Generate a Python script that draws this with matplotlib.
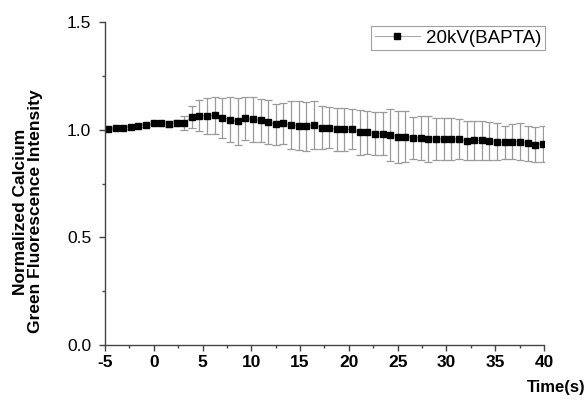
import matplotlib
matplotlib.use("Agg")
import matplotlib.pyplot as plt
from matplotlib.lines import Line2D
from matplotlib.ticker import MultipleLocator

plt.rcParams['font.family'] = ['Liberation Sans', 'DejaVu Sans']
plt.rcParams['axes.unicode_minus'] = False

# time points (s)
time_s = [-4.70, -3.92, -3.14, -2.35, -1.57, -0.79, -0.01, 0.77, 1.55, 2.33,
          3.12, 3.90, 4.68, 5.46, 6.25, 7.03, 7.81, 8.59, 9.37, 10.16,
          10.94, 11.72, 12.50, 13.29, 14.07, 14.85, 15.63, 16.41, 17.20, 17.98,
          18.76, 19.54, 20.33, 21.11, 21.89, 22.67, 23.45, 24.24, 25.02, 25.80,
          26.58, 27.37, 28.15, 28.93, 29.71, 30.49, 31.28, 32.06, 32.84, 33.62,
          34.41, 35.19, 35.97, 36.75, 37.53, 38.32, 39.10, 39.88]

intensity = [1.001, 1.007, 1.010, 1.012, 1.019, 1.021, 1.030, 1.029, 1.026, 1.032,
             1.032, 1.060, 1.064, 1.064, 1.067, 1.056, 1.046, 1.039, 1.052, 1.049,
             1.043, 1.035, 1.024, 1.029, 1.021, 1.018, 1.016, 1.022, 1.010, 1.009,
             1.001, 1.001, 1.001, 0.987, 0.987, 0.982, 0.982, 0.976, 0.968, 0.968,
             0.962, 0.961, 0.957, 0.956, 0.956, 0.956, 0.956, 0.948, 0.950, 0.950,
             0.948, 0.945, 0.941, 0.945, 0.945, 0.936, 0.931, 0.934]

err = [0.004, 0.006, 0.006, 0.008, 0.008, 0.010, 0.010, 0.012, 0.012, 0.014,
       0.032, 0.050, 0.072, 0.085, 0.085, 0.093, 0.104, 0.110, 0.098, 0.104,
       0.100, 0.103, 0.095, 0.094, 0.111, 0.114, 0.114, 0.110, 0.101, 0.095,
       0.098, 0.098, 0.093, 0.106, 0.102, 0.101, 0.099, 0.121, 0.121, 0.120,
       0.098, 0.101, 0.108, 0.098, 0.098, 0.098, 0.093, 0.091, 0.091, 0.091,
       0.087, 0.085, 0.077, 0.079, 0.085, 0.082, 0.080, 0.082]

series_label = '20kV(BAPTA)'

fig = plt.figure(figsize=(5.87, 4.05), dpi=100)
ax = fig.add_axes([0.1789, 0.1481, 0.7478, 0.7976])

ax.errorbar(time_s, intensity, yerr=err, fmt='s-', color='#aaaaaa',
            ecolor='#9a9a9a', elinewidth=0.9, capsize=3, capthick=0.9,
            markerfacecolor='black', markeredgecolor='black', markersize=5,
            linewidth=0.8)

ax.set_xlim(-5, 40)
ax.set_ylim(0, 1.5)
ax.xaxis.set_major_locator(MultipleLocator(5))
ax.xaxis.set_minor_locator(MultipleLocator(2.5))
ax.yaxis.set_major_locator(MultipleLocator(0.5))
ax.yaxis.set_minor_locator(MultipleLocator(0.25))
ax.yaxis.set_major_formatter(plt.FormatStrFormatter('%.1f'))

for side in ['top', 'right']:
    ax.spines[side].set_visible(False)
for side in ['left', 'bottom']:
    ax.spines[side].set_color('#444444')
    ax.spines[side].set_linewidth(1.0)

ax.tick_params(which='major', direction='out', length=4, width=1.0, color='#444444')
ax.tick_params(which='minor', direction='out', length=2.5, width=1.0, color='#444444')
ax.tick_params(axis='y', labelsize=12.5, pad=6)
ax.tick_params(axis='x', labelsize=12.5, pad=3)
for lab in ax.get_xticklabels():
    lab.set_fontweight('bold')

fig.text(0.048, 0.478, 'Normalized Calcium\nGreen Fluorescence Intensity',
         rotation=90, ha='center', va='center', fontsize=12.5,
         fontweight='bold', linespacing=1.05)
fig.text(0.997, 0.044, 'Time(s)', ha='right', va='center', fontsize=12,
         fontweight='bold')

# legend handle: line + marker only, no error bar
handle = Line2D([], [], color='#aaaaaa', linewidth=0.8, marker='s',
                markerfacecolor='black', markeredgecolor='black', markersize=4.5)
leg = ax.legend([handle], [series_label], loc='upper right',
                bbox_to_anchor=(1.003, 0.988), fontsize=13.5,
                frameon=True, fancybox=False, handlelength=2.4,
                borderpad=0.2, handletextpad=0.35, borderaxespad=0.0)
leg.get_frame().set_edgecolor('#888888')
leg.get_frame().set_linewidth(0.8)

fig.savefig('out.png', dpi=100)
